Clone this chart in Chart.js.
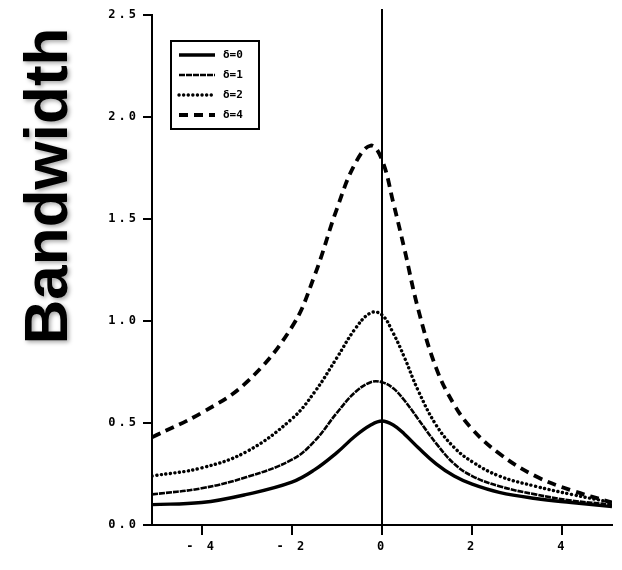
<!DOCTYPE html>
<html>
<head>
<meta charset="utf-8">
<script src="https://cdn.jsdelivr.net/npm/chart.js@4.4.1/dist/chart.umd.min.js"></script>
<style>
  html, body { margin: 0; padding: 0; background: #fff; }
  #wrap { width: 622px; height: 570px; }
</style>
</head>
<body>
<div id="wrap"><canvas id="bwChart" width="622" height="570"></canvas></div>
<script>
// x positions shared by all curves
const xs = [-5.1, -4, -3, -2, -1.5, -1, -0.6, -0.25, 0, 0.25, 0.5, 0.8, 1.2, 1.6, 2, 2.6, 3.4, 4.2, 5.1];

// bandwidth curves
const delta0 = [0.10, 0.11, 0.15, 0.21, 0.27, 0.355, 0.435, 0.49, 0.51, 0.49, 0.445, 0.38, 0.30, 0.24, 0.20, 0.16, 0.13, 0.11, 0.09];
const delta1 = [0.15, 0.18, 0.235, 0.32, 0.41, 0.55, 0.65, 0.70, 0.70, 0.67, 0.61, 0.52, 0.40, 0.30, 0.24, 0.19, 0.15, 0.12, 0.10];
const delta2 = [0.24, 0.28, 0.36, 0.52, 0.65, 0.82, 0.96, 1.04, 1.03, 0.94, 0.82, 0.66, 0.49, 0.38, 0.31, 0.24, 0.19, 0.15, 0.11];
const delta4 = [0.43, 0.55, 0.70, 0.97, 1.22, 1.55, 1.77, 1.86, 1.79, 1.58, 1.35, 1.06, 0.77, 0.59, 0.47, 0.35, 0.24, 0.17, 0.11];

const seriesLabels = ['δ=0', 'δ=1', 'δ=2', 'δ=4'];
const xTicks = [-4, -2, 0, 2, 4];
const yTicks = [0, 0.5, 1.0, 1.5, 2.0, 2.5];

const toPts = arr => arr.map((v, i) => ({ x: xs[i], y: v }));

const styles = [
  { borderWidth: 3.4, borderDash: [] },
  { borderWidth: 2.6, borderDash: [6, 1] },
  { borderWidth: 3.4, borderDash: [0.1, 4.5], borderCapStyle: 'round' },
  { borderWidth: 3.8, borderDash: [9, 6] }
];

const datasets = [delta0, delta1, delta2, delta4].map((d, i) => Object.assign({
  label: seriesLabels[i],
  data: toPts(d),
  borderColor: '#000',
  backgroundColor: '#000',
  pointRadius: 0,
  fill: false,
  tension: 0.4
}, styles[i]));

const tickFont = { family: 'DejaVu Sans Mono', size: 12, weight: 'bold' };

// vertical line at x=0, legend box, big rotated title
const extras = {
  id: 'extras',
  beforeDraw(chart) {
    chart.ctx.letterSpacing = '3px';
  },
  afterDatasetsDraw(chart) {
    const ctx = chart.ctx;
    const x0 = chart.scales.x.getPixelForValue(0);
    const a = chart.chartArea;
    ctx.save();
    ctx.setLineDash([]);
    ctx.strokeStyle = '#000';
    ctx.lineWidth = 2;
    ctx.beginPath();
    ctx.moveTo(x0, a.top - 6);
    ctx.lineTo(x0, a.bottom);
    ctx.stroke();

    // legend
    const lx = a.left + 19, ly = a.top + 26, lw = 88, lh = 88;
    ctx.lineWidth = 2;
    ctx.strokeRect(lx, ly, lw, lh);
    ctx.font = 'bold 11px "DejaVu Sans Mono"';
    ctx.letterSpacing = '0px';
    ctx.textBaseline = 'middle';
    ctx.fillStyle = '#000';
    chart.data.datasets.forEach((ds, i) => {
      const yy = ly + 14 + i * 20;
      ctx.save();
      ctx.lineWidth = ds.borderWidth;
      ctx.lineCap = ds.borderCapStyle || 'butt';
      ctx.setLineDash(ds.borderDash || []);
      ctx.beginPath();
      ctx.moveTo(lx + 8, yy);
      ctx.lineTo(lx + 44, yy);
      ctx.stroke();
      ctx.restore();
      ctx.fillText(ds.label, lx + 52, yy);
    });

    // title
    ctx.letterSpacing = '0px';
    ctx.translate(50, 186);
    ctx.rotate(-Math.PI / 2);
    ctx.font = 'bold 62px "Liberation Sans", Arial, sans-serif';
    ctx.textAlign = 'center';
    ctx.textBaseline = 'middle';
    ctx.shadowColor = 'rgba(0,0,0,0.35)';
    ctx.shadowBlur = 4;
    ctx.shadowOffsetX = 2;
    ctx.shadowOffsetY = 2;
    ctx.fillText('Bandwidth', 0, 0);
    ctx.restore();
  }
};

new Chart(document.getElementById('bwChart').getContext('2d'), {
  type: 'line',
  data: { datasets: datasets },
  plugins: [extras],
  options: {
    responsive: false,
    animation: false,
    layout: { padding: { top: 15, right: 10, left: 0, bottom: 0 } },
    plugins: { legend: { display: false }, tooltip: { enabled: false } },
    scales: {
      x: {
        type: 'linear',
        min: -5.1,
        max: 5.1,
        afterBuildTicks: s => { s.ticks = xTicks.map(v => ({ value: v })); },
        afterFit: s => { s.height = 45; },
        border: { color: '#000', width: 2 },
        grid: { drawOnChartArea: false, color: '#000', lineWidth: 2, tickLength: 10 },
        ticks: {
          color: '#000',
          font: tickFont,
          padding: 5,
          maxRotation: 0,
          callback: v => v < 0 ? '- ' + Math.abs(v) : String(v)
        }
      },
      y: {
        type: 'linear',
        min: 0,
        max: 2.5,
        afterBuildTicks: s => { s.ticks = yTicks.map(v => ({ value: v })); },
        afterFit: s => { s.width = 152; },
        border: { color: '#000', width: 2 },
        grid: { drawOnChartArea: false, color: '#000', lineWidth: 2, tickLength: 9 },
        ticks: {
          color: '#000',
          font: tickFont,
          padding: 4,
          callback: v => v.toFixed(1)
        }
      }
    }
  }
});
</script>
</body>
</html>
